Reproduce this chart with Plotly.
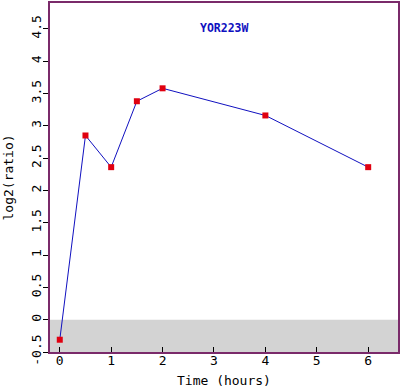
import plotly.graph_objects as go

time_hours = [0, 0.5, 1, 1.5, 2, 4, 6]
log2_ratio = [-0.31, 2.85, 2.36, 3.38, 3.58, 3.16, 2.36]
y_ticks = [-0.5, 0, 0.5, 1, 1.5, 2, 2.5, 3, 3.5, 4, 4.5]
y_tick_labels = ["-0.5", "0", "0.5", "1", "1.5", "2", "2.5", "3", "3.5", "4", "4.5"]
x_ticks = [0, 1, 2, 3, 4, 5, 6]
gene = "YOR223W"

frame = "#7a2a6a"
font = "DejaVu Sans Mono"

fig = go.Figure()
fig.add_shape(type="rect", xref="paper", yref="y", x0=0, x1=1, y0=-0.5, y1=0,
              fillcolor="#d3d3d3", line_width=0, layer="below")
fig.add_trace(go.Scatter(
    x=time_hours, y=log2_ratio, mode="lines+markers",
    line=dict(color="#1010c0", width=1),
    marker=dict(symbol="square", color="#e00010", size=6),
))
fig.add_annotation(text="<b>" + gene + "</b>", xref="paper", yref="paper",
                   x=0.5, y=0.928, yanchor="middle", showarrow=False,
                   font=dict(family=font, size=11.5, color="#1010c0"))
fig.add_annotation(text="Time (hours)", xref="paper", yref="paper",
                   x=0.5, y=0, yshift=-28, yanchor="middle", showarrow=False,
                   font=dict(family=font, size=13, color="black"))
fig.add_annotation(text="log2(ratio)", xref="paper", yref="paper",
                   x=0, xshift=-42, y=0.5, textangle=-90, xanchor="center",
                   showarrow=False, font=dict(family=font, size=13, color="black"))
fig.update_layout(
    width=402, height=387,
    margin=dict(l=50, r=4, t=3, b=35, autoexpand=False),
    paper_bgcolor="white", plot_bgcolor="white",
    showlegend=False,
    font=dict(family=font, size=13, color="black"),
    xaxis=dict(range=[-0.19, 6.58], tickvals=x_ticks, showgrid=False, zeroline=False,
               showline=True, mirror=True, linecolor=frame, linewidth=2,
               ticks="inside", ticklen=5, tickcolor="black", automargin=False,
               ticklabelstandoff=-5),
    yaxis=dict(range=[-0.5, 4.9], tickvals=y_ticks, ticktext=y_tick_labels,
               tickangle=-90, showgrid=False, zeroline=False,
               showline=True, mirror=True, linecolor=frame, linewidth=2,
               ticks="outside", ticklen=5, tickcolor="black", automargin=False,
               ticklabelstandoff=-3),
)
fig.write_html("out.html", config={"displayModeBar": False},
               post_script="document.body.style.margin='0';document.body.style.padding='0';")
